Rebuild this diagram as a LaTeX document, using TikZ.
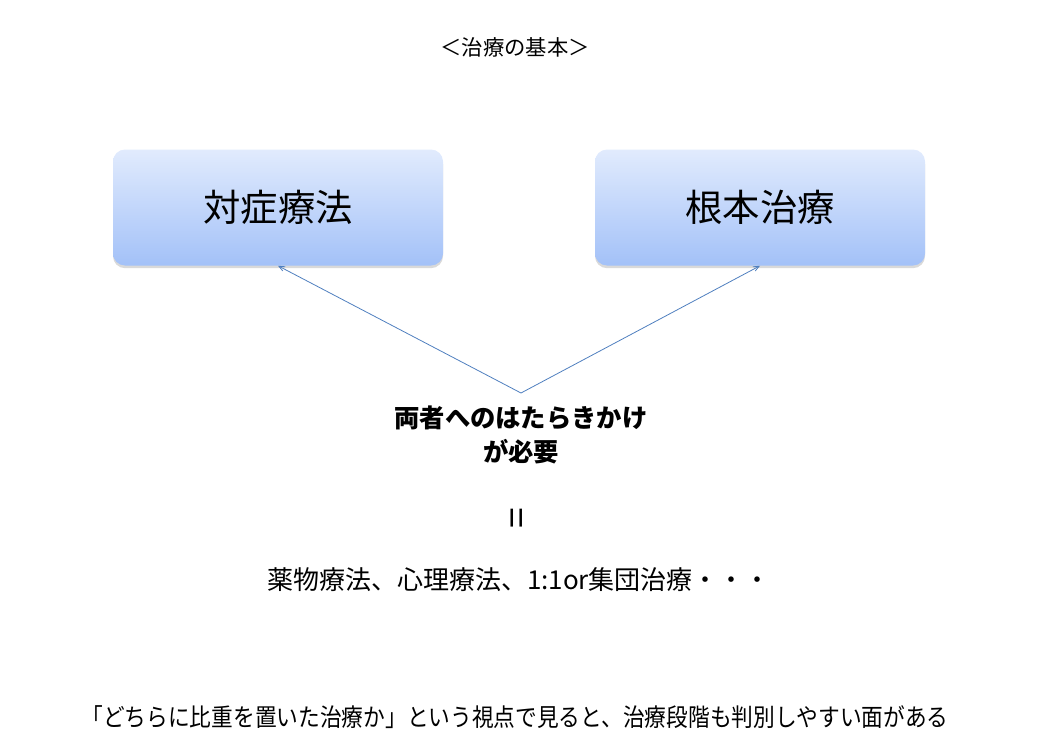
\documentclass[tikz,border=0pt]{standalone}
\usepackage{fontspec}
\setmainfont{Noto Sans CJK JP}
\usepackage{tikz}
\usetikzlibrary{arrows,shadows}

\definecolor{boxtop}{HTML}{E1EBFD}
\definecolor{boxbottom}{HTML}{A3C1F8}
\definecolor{arrowblue}{HTML}{4F7FBF}

\tikzset{
  treatbox/.style={rounded corners=9pt, top color=boxtop, bottom color=boxbottom,
    draw=none, minimum width=247.5pt, minimum height=87pt, inner sep=0pt,
    font=\fontsize{28}{32}\selectfont,
    drop shadow={shadow xshift=0pt, shadow yshift=-2pt, opacity=0.25, fill=black!60}},
  linkarrow/.style={-angle 45, arrowblue, line width=0.6pt}
}

\begin{document}
\begin{tikzpicture}[x=0.75pt,y=-0.75pt]
      \useasboundingbox (0,0) rectangle (1047,746);
      \node (title) at (515,47) {\fontsize{16}{18}\selectfont ＜治療の基本＞};
      \node[treatbox] (symptom) at (278,207.5) {対症療法};
      \node[treatbox] (root) at (760,207.5) {根本治療};
      \coordinate (apex) at (521,393);
      \draw [linkarrow] (apex) -- (symptom.south);
      \draw [linkarrow] (apex) -- (root.south);
      \node[align=center, font=\fontsize{19}{25}\selectfont\bfseries] (both) at (521,435)
        {両者へのはたらきかけ\\が必要};
      \node[rotate=90] (equal) at (521,518) {\fontsize{28}{30}\selectfont =};
      \node (methods) at (519,580) {\fontsize{19.5}{22}\selectfont 薬物療法、心理療法、1:1or集団治療・・・};
      \node[xscale=0.88] (note) at (515,717) {\fontsize{18.5}{22}\selectfont 「どちらに比重を置いた治療か」という視点で見ると、治療段階も判別しやすい面がある};
    \end{tikzpicture}
\end{document}
